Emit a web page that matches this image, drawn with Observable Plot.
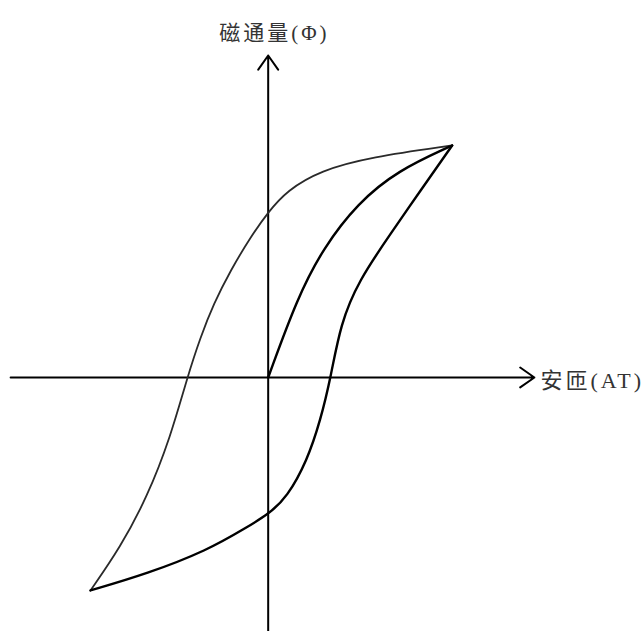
<!DOCTYPE html>
<html><head><meta charset="utf-8">
<script src="https://cdn.jsdelivr.net/npm/d3@7"></script>
<script src="https://cdn.jsdelivr.net/npm/@observablehq/plot@0.6"></script>
<style>body{margin:0;background:#fff}</style>
</head><body><div id="chart"></div>
<script>
// Initial magnetization curve (H normalised to Hmax, Φ normalised to Φmax)
const initialH   = [0, 0.159, 0.301, 0.485, 0.703, 1.0];
const initialPhi = [0, 0.345, 0.560, 0.750, 0.892, 1.0];
// Descending branch (from +saturation to -saturation)
const descH   = [1.0, 0.556, 0.284, 0.103, 0, -0.096, -0.205, -0.296, -0.368, -0.440, -0.531, -0.658, -0.803, -0.966];
const descPhi = [1.0, 0.950, 0.892, 0.806, 0.713, 0.605, 0.461, 0.318, 0.174, 0, -0.257, -0.516, -0.731, -0.918];
// Ascending branch (from -saturation back to +saturation)
const ascH   = [-0.966, -0.658, -0.332, -0.114, 0.003, 0.103, 0.212, 0.284, 0.340, 0.393, 0.492, 0.665, 0.828, 1.0];
const ascPhi = [-0.918, -0.846, -0.746, -0.645, -0.588, -0.516, -0.358, -0.185, 0, 0.231, 0.418, 0.619, 0.806, 1.0];
// Axis lines
const axisNames = ["H", "Phi"];
const axisX1 = [-1.40, 0];
const axisY1 = [0, -1.095];
const axisX2 = [1.447, 0];
const axisY2 = [0, 1.388];
// Labels
const labelTexts = ["磁通量(Φ)", "安匝(AT)"];
const labelH = [0.034, 1.48];
const labelPhi = [1.483, -0.017];

const toRows = (xs, ys) => xs.map((x, i) => ({H: x, Phi: ys[i]}));
const initial = toRows(initialH, initialPhi);
const desc = toRows(descH, descPhi);
const asc = toRows(ascH, ascPhi);
const axes = axisNames.map((n, i) => ({name: n, x1: axisX1[i], y1: axisY1[i], x2: axisX2[i], y2: axisY2[i]}));
const labels = labelTexts.map((t, i) => ({text: t, H: labelH[i], Phi: labelPhi[i], anchor: i === 0 ? "middle" : "start"}));

const chart = Plot.plot({
  width: 643, height: 631, margin: 0,
  x: {domain: [-1.455, 2.040], axis: null},
  y: {domain: [-1.095, 1.625], axis: null},
  style: {background: "#fff"},
  marks: [
    Plot.arrow(axes, {x1: "x1", y1: "y1", x2: "x2", y2: "y2", stroke: "#000", strokeWidth: 2, headLength: 13, headAngle: 70}),
    Plot.line(desc, {x: "H", y: "Phi", curve: "basis", stroke: "#2a2a2a", strokeWidth: 1.8}),
    Plot.line(asc, {x: "H", y: "Phi", curve: "basis", stroke: "#000", strokeWidth: 2.4}),
    Plot.line(initial, {x: "H", y: "Phi", curve: "basis", stroke: "#000", strokeWidth: 2.4}),
    Plot.text(labels.filter(d => d.anchor === "middle"), {x: "H", y: "Phi", text: "text", textAnchor: "middle", fontSize: 21, fill: "#333", fontFamily: "'Liberation Serif','Noto Sans CJK SC',serif"}),
    Plot.text(labels.filter(d => d.anchor === "start"), {x: "H", y: "Phi", text: "text", textAnchor: "start", fontSize: 22, fill: "#333", fontFamily: "'Liberation Serif','Noto Sans CJK SC',serif"})
  ]
});
d3.select(chart).selectAll("text").attr("letter-spacing", "3px");
document.getElementById("chart").appendChild(chart);
</script>
</body></html>
